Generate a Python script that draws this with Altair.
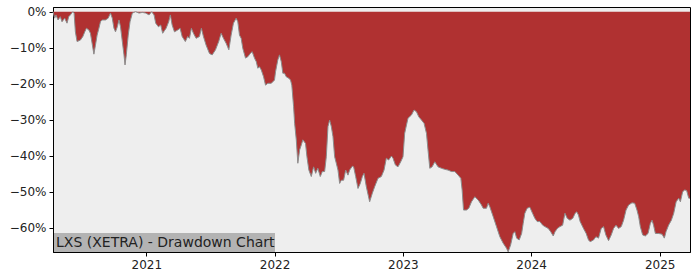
import altair as alt
import pandas as pd

# Decimal-year dates (percent)
years = [
    2020.274, 2020.287, 2020.297, 2020.313, 2020.331, 2020.344, 2020.365, 2020.383, 2020.396, 2020.409,
    2020.428, 2020.438, 2020.448, 2020.461, 2020.487, 2020.506, 2020.521, 2020.534, 2020.553, 2020.565,
    2020.578, 2020.592, 2020.604, 2020.617, 2020.631, 2020.643, 2020.656, 2020.682, 2020.703, 2020.721,
    2020.735, 2020.748, 2020.760, 2020.774, 2020.787, 2020.799, 2020.813, 2020.826, 2020.834, 2020.844,
    2020.859, 2020.873, 2020.891, 2020.916, 2020.943, 2020.969, 2020.995, 2021.021, 2021.041, 2021.060,
    2021.073, 2021.094, 2021.112, 2021.127, 2021.154, 2021.174, 2021.187, 2021.201, 2021.219, 2021.244,
    2021.263, 2021.279, 2021.304, 2021.322, 2021.336, 2021.351, 2021.367, 2021.388, 2021.414, 2021.429,
    2021.445, 2021.466, 2021.492, 2021.513, 2021.539, 2021.564, 2021.583, 2021.601, 2021.622, 2021.643,
    2021.661, 2021.679, 2021.700, 2021.713, 2021.726, 2021.739, 2021.752, 2021.773, 2021.791, 2021.810,
    2021.825, 2021.843, 2021.857, 2021.869, 2021.882, 2021.896, 2021.914, 2021.929, 2021.947, 2021.974,
    2021.999, 2022.007, 2022.025, 2022.038, 2022.052, 2022.064, 2022.077, 2022.091, 2022.111, 2022.124,
    2022.134, 2022.148, 2022.156, 2022.169, 2022.181, 2022.195, 2022.208, 2022.220, 2022.241, 2022.252,
    2022.267, 2022.286, 2022.304, 2022.320, 2022.337, 2022.356, 2022.372, 2022.390, 2022.403, 2022.416,
    2022.429, 2022.442, 2022.455, 2022.468, 2022.481, 2022.494, 2022.507, 2022.520, 2022.538, 2022.554,
    2022.572, 2022.585, 2022.606, 2022.616, 2022.632, 2022.650, 2022.668, 2022.684, 2022.697, 2022.715,
    2022.741, 2022.762, 2022.780, 2022.806, 2022.832, 2022.853, 2022.871, 2022.889, 2022.911, 2022.923,
    2022.942, 2022.962, 2022.983, 2023.001, 2023.014, 2023.028, 2023.040, 2023.067, 2023.087, 2023.106,
    2023.124, 2023.145, 2023.165, 2023.184, 2023.196, 2023.210, 2023.228, 2023.249, 2023.274, 2023.301,
    2023.327, 2023.352, 2023.379, 2023.405, 2023.431, 2023.452, 2023.462, 2023.473, 2023.496, 2023.514,
    2023.535, 2023.561, 2023.587, 2023.613, 2023.626, 2023.652, 2023.665, 2023.678, 2023.704, 2023.730,
    2023.756, 2023.782, 2023.808, 2023.821, 2023.840, 2023.860, 2023.873, 2023.887, 2023.907, 2023.926,
    2023.938, 2023.951, 2023.969, 2023.990, 2024.011, 2024.029, 2024.047, 2024.068, 2024.090, 2024.107,
    2024.133, 2024.152, 2024.172, 2024.186, 2024.204, 2024.224, 2024.245, 2024.263, 2024.281, 2024.302,
    2024.324, 2024.342, 2024.355, 2024.368, 2024.381, 2024.407, 2024.428, 2024.446, 2024.459, 2024.485,
    2024.504, 2024.524, 2024.545, 2024.563, 2024.581, 2024.602, 2024.623, 2024.641, 2024.660, 2024.680,
    2024.701, 2024.719, 2024.738, 2024.758, 2024.784, 2024.805, 2024.823, 2024.836, 2024.849, 2024.867,
    2024.888, 2024.909, 2024.927, 2024.940, 2024.952, 2024.966, 2024.991, 2025.018, 2025.036, 2025.049,
    2025.069, 2025.091, 2025.109, 2025.128, 2025.148, 2025.161, 2025.179, 2025.195, 2025.210, 2025.226,
    2025.236,
]
drawdown_pct = [
    0.0, -1.8, -0.9, -2.3, -1.4, -2.8, -1.8, -3.2, -1.4, -0.9,
    0.0, -0.4, -5.6, -8.3, -7.9, -6.9, -5.6, -4.6, -5.1, -6.0,
    -8.8, -11.8, -9.3, -6.5, -4.6, -2.8, -2.3, -2.3, -1.8, -0.4,
    -1.8, -4.6, -5.6, -4.2, -2.3, -4.2, -8.3, -12.0, -14.8, -12.0,
    -6.5, -2.8, -0.4, 0.0, -0.4, -0.2, -0.4, -0.9, 0.0, -0.9,
    -3.2, -4.2, -3.7, -6.0, -4.6, -2.8, -0.9, -3.7, -5.6, -5.1,
    -4.6, -6.9, -8.3, -6.9, -7.4, -4.6, -6.0, -7.4, -6.9, -4.6,
    -6.9, -9.3, -11.6, -12.0, -10.6, -8.3, -6.0, -7.4, -8.8, -10.6,
    -6.5, -3.2, -1.8, -2.8, -6.5, -7.4, -10.2, -12.9, -12.5, -11.6,
    -11.1, -12.9, -13.9, -15.7, -15.3, -16.2, -18.1, -20.4, -19.9, -19.9,
    -19.0, -16.7, -13.4, -12.0, -13.9, -17.1, -17.1, -18.1, -18.5, -19.0,
    -20.4, -26.4, -31.0, -35.6, -42.1, -38.4, -37.0, -35.6, -36.6, -40.3,
    -44.0, -45.8, -43.1, -44.9, -43.5, -45.8, -44.4, -44.4, -40.3, -31.9,
    -30.1, -31.9, -34.7, -40.3, -42.1, -44.0, -47.7, -46.8, -46.8, -44.0,
    -45.4, -44.0, -42.9, -43.1, -45.8, -49.1, -47.7, -45.8, -44.9, -48.6,
    -52.8, -50.4, -48.6, -46.3, -45.8, -44.0, -40.7, -41.2, -40.1, -40.7,
    -42.6, -43.1, -41.7, -40.3, -33.8, -31.5, -29.6, -28.7, -27.3, -27.8,
    -29.2, -30.1, -31.0, -33.8, -38.4, -43.5, -43.1, -41.7, -43.1, -43.5,
    -43.8, -44.0, -44.4, -44.4, -45.4, -46.3, -49.5, -55.1, -55.1, -54.6,
    -52.8, -51.4, -52.3, -53.7, -54.6, -54.6, -53.2, -54.2, -56.9, -59.7,
    -62.5, -64.3, -65.7, -66.7, -64.8, -61.6, -61.1, -62.9, -63.4, -61.6,
    -58.8, -56.0, -54.6, -54.3, -56.0, -57.4, -58.3, -58.3, -59.3, -59.7,
    -60.2, -61.1, -62.3, -61.1, -60.2, -59.7, -59.3, -56.0, -57.4, -57.9,
    -57.4, -56.0, -55.6, -56.5, -58.3, -60.2, -61.6, -63.4, -63.9, -63.4,
    -62.5, -62.9, -60.2, -59.7, -62.0, -63.6, -62.0, -60.2, -59.3, -60.2,
    -59.7, -57.9, -55.1, -53.7, -53.1, -53.2, -55.1, -56.9, -59.7, -62.0,
    -62.3, -61.6, -58.8, -57.9, -59.3, -61.6, -61.6, -61.8, -62.9, -61.1,
    -59.3, -57.9, -56.0, -52.8, -51.8, -52.8, -50.0, -49.5, -49.7, -51.8,
    -51.8,
]
y_ticks = [0.0, -0.1, -0.2, -0.3, -0.4, -0.5, -0.6]
title_text = "LXS (XETRA) - Drawdown Chart"


def dec_to_ts(d):
    y = int(d)
    start = pd.Timestamp(year=y, month=1, day=1)
    end = pd.Timestamp(year=y + 1, month=1, day=1)
    return start + (end - start) * (d - y)


df = pd.DataFrame({
    "date": [dec_to_ts(v) for v in years],
    "dd": [v / 100.0 for v in drawdown_pct],
})

x_dom = [df["date"].iloc[0].isoformat(), df["date"].iloc[-1].isoformat()]
y_dom = [-0.6675, 0.013]

x_enc = alt.X("date:T", scale=alt.Scale(domain=x_dom, nice=False),
              axis=alt.Axis(format="%Y", tickCount={"interval": "year", "step": 1},
                            title=None, grid=False, labelFlush=False))
y_enc = alt.Y("dd:Q", scale=alt.Scale(domain=y_dom, nice=False, zero=False),
              axis=alt.Axis(values=y_ticks, format=".0%", title=None, grid=False))

base = alt.Chart(df)
area = base.mark_area(color="#B03131", opacity=1, interpolate="linear").encode(
    x=x_enc, y=y_enc, y2=alt.value(0)
)
edge = base.mark_line(color="#8c8c8c", strokeWidth=1).encode(x="date:T", y="dd:Q")

label_df = pd.DataFrame({"t": [title_text]})
box = alt.Chart(label_df).mark_rect(color="#b3b3b3").encode(
    x=alt.value(1), x2=alt.value(222), y=alt.value(226), y2=alt.value(245)
)
label = alt.Chart(label_df).mark_text(
    align="left", baseline="alphabetic", font="DejaVu Sans", fontSize=14, color="#222222"
).encode(x=alt.value(3), y=alt.value(240), text="t:N")

chart = alt.layer(area, edge, box, label).properties(
    width=637, height=245,
    autosize=alt.AutoSizeParams(type="none"),
    padding={"left": 53, "top": 7, "right": 10, "bottom": 28},
    background="white",
).configure_view(
    stroke="black", strokeWidth=1, fill="#EEEEEE"
).configure_axis(
    labelFont="DejaVu Sans", labelFontSize=12, labelColor="#222222",
    tickColor="black", tickSize=4, domainColor="black", labelPadding=3,
)

chart.save("out.html", embed_options={"renderer": "svg", "actions": False})
